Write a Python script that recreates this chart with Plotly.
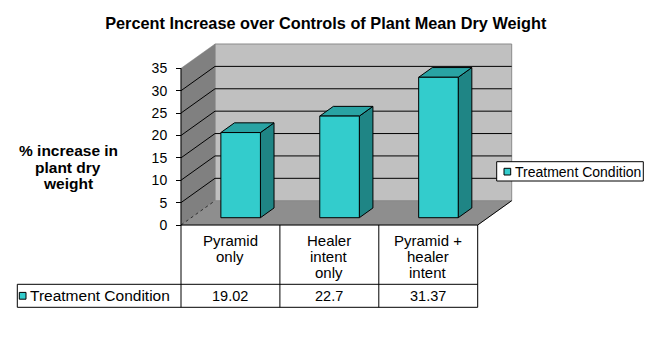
import plotly.graph_objects as go

# ---- chart data -------------------------------------------------------------
categories = ["Pyramid\nonly", "Healer\nintent\nonly", "Pyramid +\nhealer\nintent"]
values = [19.02, 22.7, 31.37]
series_name = "Treatment Condition"
y_ticks = [0, 5, 10, 15, 20, 25, 30, 35]
y_max = 35
title_text = "Percent Increase over Controls of Plant Mean Dry Weight"
y_title_lines = ["% increase in", "plant dry", "weight"]

# ---- styling / geometry -----------------------------------------------------
W, H = 646, 339
FONT = "Liberation Sans, Arial, sans-serif"
FRONT = "#33CCCC"
SIDE = "#1F8585"
TOP = "#29A3A3"
BACK_WALL = "#C0C0C0"
SIDE_WALL = "#808080"
FLOOR = "#8E8E8E"

X0_PX = 181.0        # left edge of the front plane (category -0.5)
Y0_PX = 225.0        # value 0 on the front plane
PX_PER_CAT = 98.9
PX_PER_UNIT = 4.477
DEPTH_DX = 34.0 / PX_PER_CAT     # oblique depth offset, category units
DEPTH_DY = 24.3 / PX_PER_UNIT    # oblique depth offset, value units
BAR_HALF = 0.2
BAR_D0, BAR_D1 = 0.30, 0.70

n = len(values)
x_lo, x_hi = -0.5, n - 0.5


def proj(x, y, d=0.0):
    """Oblique projection of (category, value, depth fraction)."""
    return x + d * DEPTH_DX, y + d * DEPTH_DY


def px_units(px):
    return px / PX_PER_UNIT


def poly(points):
    xs, ys = [], []
    for p in points:
        px_, py_ = proj(*p)
        xs.append(px_)
        ys.append(py_)
    xs.append(xs[0])
    ys.append(ys[0])
    return xs, ys


def multi(polys):
    xs, ys = [], []
    for pts in polys:
        a, b = poly(pts)
        xs += a + [None]
        ys += b + [None]
    return xs, ys


def segs(pairs):
    xs, ys = [], []
    for p, q in pairs:
        a = proj(*p)
        b = proj(*q)
        xs += [a[0], b[0], None]
        ys += [a[1], b[1], None]
    return xs, ys


fig = go.Figure()


def add_fill(xs, ys, fill, line_color, width=1):
    fig.add_trace(go.Scatter(x=xs, y=ys, mode="lines", fill="toself",
                             fillcolor=fill,
                             line=dict(color=line_color, width=width),
                             hoverinfo="skip", showlegend=False))


def add_lines(xs, ys, color, width=1, dash="solid"):
    fig.add_trace(go.Scatter(x=xs, y=ys, mode="lines",
                             line=dict(color=color, width=width, dash=dash),
                             hoverinfo="skip", showlegend=False))


# walls and floor
add_fill(*poly([(x_lo, 0, 0), (x_hi, 0, 0), (x_hi, 0, 1), (x_lo, 0, 1)]), FLOOR, FLOOR, 0.5)
add_fill(*poly([(x_lo, 0, 1), (x_hi, 0, 1), (x_hi, y_max, 1), (x_lo, y_max, 1)]), BACK_WALL, "#8A8A8A", 1)
add_fill(*poly([(x_lo, 0, 0), (x_lo, 0, 1), (x_lo, y_max, 1), (x_lo, y_max, 0)]), SIDE_WALL, SIDE_WALL, 0.5)

# gridlines on back and side walls
grid = [t for t in y_ticks if 0 < t < y_max]
add_lines(*segs([((x_lo, t, 1), (x_hi, t, 1)) for t in grid]), "#000000")
add_lines(*segs([((x_lo, t, 0), (x_lo, t, 1)) for t in grid]), "#000000")
add_lines(*segs([((x_lo, 0, 0), (x_lo, 0, 1))]), "#303030", 1, "dot")

# floor edges and value axis line
add_lines(*segs([((x_lo, 0, 0), (x_hi, 0, 0)), ((x_hi, 0, 0), (x_hi, 0, 1)),
                 ((x_lo, 0, 0), (x_lo, y_max, 0))]), "#000000")

# 3-D columns
sides, tops, fronts = [], [], []
for i, v in enumerate(values):
    l, r = i - BAR_HALF, i + BAR_HALF
    sides.append([(r, 0, BAR_D0), (r, 0, BAR_D1), (r, v, BAR_D1), (r, v, BAR_D0)])
    tops.append([(l, v, BAR_D0), (r, v, BAR_D0), (r, v, BAR_D1), (l, v, BAR_D1)])
    fronts.append([(l, 0, BAR_D0), (r, 0, BAR_D0), (r, v, BAR_D0), (l, v, BAR_D0)])
add_fill(*multi(sides), SIDE, "#000000")
add_fill(*multi(tops), TOP, "#000000")
add_fill(*multi(fronts), FRONT, "#000000")

shapes = []
annotations = []

# ---- data table under the category axis -------------------------------------
row1 = -px_units(59.3)
row2 = -px_units(82.3)
key_left = x_lo - (X0_PX - 17.3) / PX_PER_CAT
line = dict(color="#000000", width=1)
for b in [x_lo + k for k in range(n + 1)]:
    shapes.append(dict(type="line", xref="x", yref="y", x0=b, x1=b, y0=0, y1=row2, line=line))
for yy in (row1, row2):
    shapes.append(dict(type="line", xref="x", yref="y", x0=key_left, x1=x_hi, y0=yy, y1=yy, line=line))
shapes.append(dict(type="line", xref="x", yref="y", x0=key_left, x1=key_left, y0=row1, y1=row2, line=line))

for i, (cat, v) in enumerate(zip(categories, values)):
    for k, txt in enumerate(cat.split("\n")):
        annotations.append(dict(x=i, y=-px_units(15.7 + 15.8 * k), xref="x", yref="y",
                                text=txt, showarrow=False, xanchor="center", yanchor="middle",
                                font=dict(family=FONT, size=15, color="#000000")))
    annotations.append(dict(x=i, y=(row1 + row2) / 2, xref="x", yref="y",
                            text=f"{v:g}", showarrow=False, xanchor="center", yanchor="middle",
                            font=dict(family=FONT, size=14.5, color="#000000")))

# key swatch + series name in the table
key_y = (row1 + row2) / 2
kx0 = key_left + 2.0 / PX_PER_CAT
shapes.append(dict(type="rect", xref="x", yref="y", x0=kx0, x1=kx0 + 6.7 / PX_PER_CAT,
                   y0=key_y - px_units(3.4), y1=key_y + px_units(3.4),
                   fillcolor=FRONT, line=dict(color="#000000", width=1)))
annotations.append(dict(x=key_left + 10.5 / PX_PER_CAT, y=key_y, xref="x", yref="y",
                        text=series_name, showarrow=False, xanchor="left", yanchor="middle",
                        font=dict(family=FONT, size=15.5, color="#000000")))

# ---- legend box -------------------------------------------------------------
def px_x(p):
    return p / W


def px_y(p):
    return 1 - p / H


shapes.append(dict(type="rect", xref="paper", yref="paper", x0=px_x(496.7), x1=px_x(643.3),
                   y0=px_y(181), y1=px_y(161.7), fillcolor="#FFFFFF",
                   line=dict(color="#000000", width=1)))
shapes.append(dict(type="rect", xref="paper", yref="paper", x0=px_x(504), x1=px_x(510.7),
                   y0=px_y(175), y1=px_y(168.3), fillcolor=FRONT,
                   line=dict(color="#000000", width=1)))
annotations.append(dict(x=px_x(513), y=px_y(171.5), xref="paper", yref="paper",
                        text=series_name, showarrow=False, xanchor="left", yanchor="middle",
                        font=dict(family=FONT, size=14, color="#000000")))

# ---- value axis title -------------------------------------------------------
for k, txt in enumerate(y_title_lines):
    annotations.append(dict(x=px_x(68), y=px_y(151 + 16.2 * k), xref="paper", yref="paper",
                            text=f"<b>{txt}</b>", showarrow=False, xanchor="center",
                            yanchor="middle",
                            font=dict(family=FONT, size=15.5, color="#000000")))

fig.update_layout(
    width=W, height=H,
    margin=dict(l=0, r=0, t=0, b=0),
    paper_bgcolor="#FFFFFF", plot_bgcolor="#FFFFFF",
    title=dict(text=f"<b>{title_text}</b>", x=px_x(325.8), xanchor="center",
               y=px_y(23.5), yanchor="middle",
               font=dict(family=FONT, size=16.3, color="#000000")),
    xaxis=dict(range=[x_lo - X0_PX / PX_PER_CAT, x_lo + (W - X0_PX) / PX_PER_CAT],
               visible=False, fixedrange=True),
    yaxis=dict(range=[-(H - Y0_PX) / PX_PER_UNIT, Y0_PX / PX_PER_UNIT],
               anchor="free", position=X0_PX / W, side="left",
               tickvals=y_ticks, ticktext=[str(t) for t in y_ticks],
               ticks="outside", ticklen=5, tickwidth=1, tickcolor="#000000",
               ticklabelstandoff=6,
               showgrid=False, zeroline=False, showline=False, fixedrange=True,
               tickfont=dict(family=FONT, size=14, color="#000000")),
    shapes=shapes,
    annotations=annotations,
    showlegend=False,
)

fig.write_html("out.html")
